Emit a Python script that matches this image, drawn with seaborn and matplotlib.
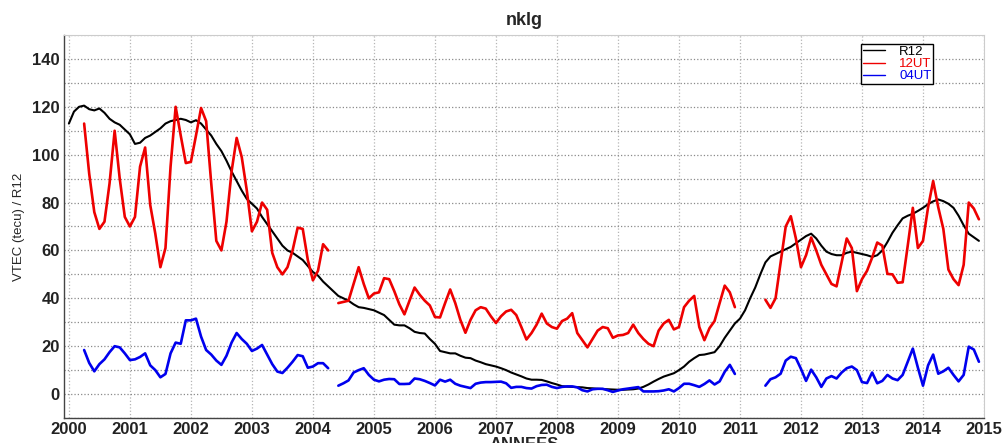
import numpy as np
import pandas as pd
import matplotlib
matplotlib.use('Agg')
import matplotlib.pyplot as plt
import seaborn as sns
from matplotlib.ticker import MultipleLocator
from matplotlib.lines import Line2D

nan = np.nan

# R12 (indice solaire lissé), mensuel de jan 2000 à déc 2014
r12 = [113, 118, 120, 120.5, 119, 118.5, 119.3, 117.5, 115, 113.5, 112.5, 110.5,
       108.5, 104.5, 105, 107, 108, 109.5, 111, 113, 114, 114.5, 115, 114.5,
       113.5, 114.4, 113, 110.5, 108, 104.5, 101.5, 97.5, 93, 89, 85, 81.5,
       79.5, 77.5, 74, 71, 68, 65, 62, 60, 59, 57.5, 56, 53.5,
       51, 49.5, 47, 45, 43, 41, 40, 39, 37.5, 36.3, 36, 35.5,
       35, 34, 33, 31, 29, 28.7, 28.7, 27.5, 26, 25.5, 25.3, 23,
       21, 18, 17.5, 17, 17, 16, 15.2, 15, 14, 13.3, 12.5, 12,
       11.5, 10.8, 10, 9, 8.2, 7.4, 6.5, 6, 6, 5.9, 5.3, 4.6,
       4, 3.3, 3.1, 3, 2.9, 2.8, 2.5, 2.4, 2.2, 2.1, 2, 1.9,
       1.8, 1.8, 1.9, 2, 2.3, 3, 4, 5.2, 6.3, 7.3, 8, 8.7,
       10, 11.5, 13.5, 15, 16.3, 16.5, 17, 17.5, 20, 23.5, 26.5, 29.5,
       31.5, 35, 40, 44.5, 50, 55, 57.5, 58.5, 59.5, 60.5, 61.5, 63,
       64.5, 66, 67, 65, 62, 59.5, 58.5, 58, 58, 59, 59.5, 59,
       58.5, 58, 57.3, 58, 60, 63.5, 67.4, 70.5, 73.4, 74.5, 75.3, 76.5,
       77.8, 79.3, 80.5, 81.3, 80.6, 79.5, 77.8, 74.5, 70.5, 67, 65.5, 64]

# VTEC a 12UT
ut12 = [nan, nan, nan, 113, 92, 76, 69, 72, 88, 110, 90, 74,
        70, 74, 95, 103, 79, 67, 53, 61, 95, 120, 108, 96.5,
        97, 108, 119.5, 114, 88, 64, 60, 72, 93, 107, 99, 85,
        68, 72, 80, 77, 59, 53, 50, 53, 60, 69.5, 69, 56,
        47.5, 51.5, 62.6, 60, nan, 38, 38.5, 39, 46, 53, 46, 40,
        42, 42.5, 48.4, 48, 43, 37.5, 33.3, 39, 44.5, 41.5, 39, 37,
        32.2, 32, 38, 43.7, 38, 31, 25.6, 31, 35, 36.3, 35.7, 32.5,
        29.7, 32.5, 34.5, 35.2, 33, 28, 22.8, 25.5, 29, 33.6, 29.5, 28,
        27.3, 30.5, 31.5, 33.8, 25.5, 22.5, 19.5, 23, 26.5, 28, 27.5, 23.5,
        24.5, 24.7, 25.5, 29, 25.5, 23, 21, 20, 26.5, 29.5, 31, 27,
        28, 36.3, 39, 41, 28, 22.5, 27.5, 30.5, 38, 45.3, 42.5, 36.3,
        nan, nan, nan, nan, nan, 39.4, 36, 40, 55, 70, 74.3, 65,
        53, 58, 65.4, 60, 54, 50, 46, 45, 55, 65, 61, 43,
        48, 51.5, 57, 63.3, 62, 50.2, 50, 46.5, 46.7, 62, 77.8, 61,
        64, 78, 89, 78, 69, 52, 48, 45.5, 54, 80, 77.5, 73]

# VTEC a 04UT
ut04 = [nan, nan, nan, 18.4, 13, 9.5, 12.5, 14.5, 17.5, 20, 19.5, 17,
        14.2, 14.5, 15.5, 17, 12, 10, 7, 8.4, 17, 21.5, 21, 30.8,
        30.8, 31.5, 24, 18.4, 16.5, 14, 12.2, 16, 21.5, 25.5, 23, 21,
        18, 19, 20.5, 16.5, 12.5, 9.4, 8.8, 11, 13.5, 16.3, 15.8, 11,
        11.5, 12.9, 12.9, 10.8, nan, 3.5, 4.5, 5.7, 9, 10, 10.8, 8,
        6, 5.3, 6, 6.3, 6.2, 4.2, 4.2, 4.3, 6.5, 6.2, 5.5, 4.6,
        3.6, 6, 5.2, 6, 4.3, 3.5, 3, 2.5, 4.3, 4.8, 5, 5,
        5.1, 5.2, 4.5, 2.6, 3, 3, 2.5, 2.3, 3.3, 3.8, 3.9, 3,
        2.5, 3, 3.2, 3.2, 2.8, 1.6, 1.1, 2, 2.2, 2.2, 1.6, 0.9,
        1.5, 2, 2.3, 2.6, 2.9, 1.1, 1.1, 1.1, 1.2, 1.5, 2, 1.1,
        2.5, 4.3, 4.3, 3.7, 3, 4.2, 5.7, 4, 5.3, 9.3, 12.2, 8.4,
        nan, nan, nan, nan, nan, 3.5, 6.2, 7, 8.5, 14, 15.6, 15,
        10.5, 5.5, 10.2, 7, 3, 6.5, 7.5, 6.5, 9, 10.8, 11.5, 10,
        5, 4.6, 9, 4.5, 5.5, 8, 6.5, 5.8, 8, 13.5, 19, 11,
        3.5, 12, 16.5, 8.5, 9.5, 11, 8, 5.3, 8, 19.8, 18.6, 13.5]

mois = 2000 + np.arange(len(r12)) / 12
years = list(range(2000, 2016))


def to_frame(values):
    s = pd.Series(values, dtype=float)
    df = pd.DataFrame({'t': mois, 'v': s, 'seg': s.isna().cumsum()})
    return df.dropna()


sns.set_theme(style='white')
plt.rcParams['font.family'] = ['Liberation Sans', 'DejaVu Sans']

fig = plt.figure(figsize=(10.02, 4.43), dpi=100)
ax = fig.add_axes([64 / 1002, 25 / 443, 920 / 1002, 383 / 443])

series = [('R12', r12, 'black', 1.5),
          ('12UT', ut12, '#ee0000', 1.9),
          ('04UT', ut04, '#0000ee', 1.9)]
for name, vals, col, lw in series:
    sns.lineplot(data=to_frame(vals), x='t', y='v', units='seg', estimator=None,
                 color=col, lw=lw, ax=ax, sort=False)

ax.set_xlim(1999.92, 2015)
ax.set_ylim(-10, 150)
ax.set_xticks(years)
ax.set_yticks(range(0, 141, 20))
ax.yaxis.set_minor_locator(MultipleLocator(10))

ax.grid(which='major', axis='y', ls=':', color='#8a8a8a', lw=0.9)
ax.grid(which='minor', axis='y', ls=':', color='#8a8a8a', lw=0.9)
ax.grid(which='major', axis='x', ls=':', color='#b5b5b5', lw=0.9)

ax.tick_params(which='both', direction='in', length=3, width=0.8, colors='#333333')
ax.tick_params(axis='x', pad=3, labelsize=12)
ax.tick_params(axis='y', pad=3, labelsize=12)
plt.setp(ax.get_xticklabels() + ax.get_yticklabels(), fontweight='bold', color='#222222')

for side in ['left', 'bottom']:
    ax.spines[side].set_color('#444444')
    ax.spines[side].set_linewidth(1.0)
for side in ['top', 'right']:
    ax.spines[side].set_color('#cccccc')
    ax.spines[side].set_linewidth(0.8)

ax.set_title('nklg', fontsize=13, fontweight='bold', pad=7)
# comme dans l'original, le titre de l'axe x est rogné par le bord bas
ax.set_xlabel('ANNEES', fontsize=12, fontweight='bold')
ax.xaxis.set_label_coords(0.5, -0.05)
ax.set_ylabel('VTEC (tecu) / R12', fontsize=9.5)
ax.yaxis.set_label_coords(-0.042, 0.5)

handles = [Line2D([], [], color=c, lw=1.0) for _, _, c, _ in series]
leg = ax.legend(handles, [n for n, _, _, _ in series], loc='upper right',
                bbox_to_anchor=(0.945, 0.977), borderaxespad=0, fontsize=9.5,
                labelcolor=[c for _, _, c, _ in series], frameon=True,
                fancybox=False, framealpha=1, edgecolor='black',
                handlelength=1.6, handletextpad=1.1, labelspacing=0.0,
                borderpad=0.15)
leg.get_frame().set_linewidth(1.0)

fig.savefig('out.png', dpi=100)
